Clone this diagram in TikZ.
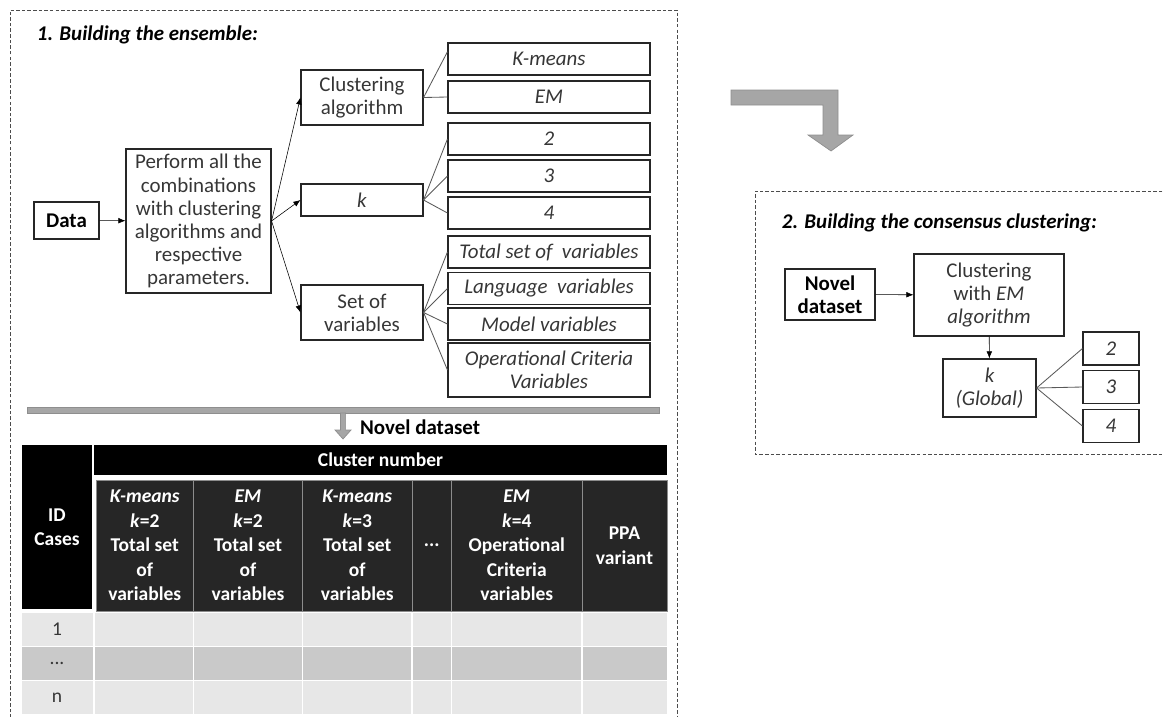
\documentclass[tikz,border=0pt]{standalone}
\usepackage{fontspec}
\setmainfont{Carlito}
\usetikzlibrary{arrows.meta}

\definecolor{txtgray}{HTML}{363636}
\definecolor{bargray}{HTML}{A6A6A6}
\definecolor{baredge}{HTML}{8E8E8E}
\definecolor{headdark}{HTML}{262626}
\definecolor{rowlight}{HTML}{E7E7E7}
\definecolor{rowdark}{HTML}{C9C9C9}
\definecolor{twiggray}{HTML}{595959}

\tikzset{
    >={Latex[length=5pt,width=4pt]},
    box/.style={draw=black!85, line width=0.8pt, align=center, inner sep=1pt, text=txtgray,
        font=\fontsize{14.9}{16.4}\selectfont},
    optbox/.style={box, minimum width=5.05cm, minimum height=0.8cm,
        font=\fontsize{14.9}{16.4}\selectfont\itshape},
    twig/.style={draw=twiggray, line width=0.6pt},
    dashbox/.style={draw=black!70, line width=0.6pt, dash pattern=on 2.5pt off 1.5pt},
    bigarrow/.style={fill=bargray, draw=baredge, line width=0.5pt},
    headcell/.style={fill=black, text=white, align=center, inner sep=0pt,
        font=\fontsize{13.9}{17.4}\selectfont\bfseries},
    subcell/.style={headcell, fill=headdark, draw=black!45, line width=0.6pt, minimum height=3.275cm},
    rowlabel/.style={text=txtgray, font=\fontsize{13.9}{17.4}\selectfont}
}

\begin{document}
\begin{tikzpicture}

        \useasboundingbox (0,0) rectangle (29.075,-17.9);

        \draw [dashbox](0.25,-17.95) |- (16.925,-0.25) -- (16.925,-17.95);
        \node [anchor=west, font=\fontsize{14.9}{16.4}\selectfont\bfseries\itshape] (title1) at (0.8,-0.875) {1. Building the ensemble:};

        \node [box, minimum width=1.625cm, minimum height=0.925cm, text=black, font=\fontsize{14.9}{16.4}\selectfont\bfseries] (data) at (1.6625,-5.5125) {Data};
        \node [box, minimum width=3.625cm, minimum height=3.6cm] (perform) at (4.9625,-5.525) {Perform all the\\combinations\\with clustering\\algorithms and\\respective\\parameters.};

        \node [box, minimum width=3.05cm, minimum height=1.375cm] (clalg) at (9.05,-2.4375) {Clustering\\algorithm};
        \node [box, minimum width=3.05cm, minimum height=0.8cm, font=\fontsize{14.9}{16.4}\selectfont\itshape] (kbox) at (9.05,-5.0) {k};
        \node [box, minimum width=3.05cm, minimum height=1.375cm] (setvar) at (9.05,-7.8125) {Set of\\variables};

        \node [optbox] (kmeans) at (13.725,-1.475) {K-means};
        \node [optbox] (em) at (13.725,-2.425) {EM};
        \node [optbox] (ktwo) at (13.725,-3.475) {2};
        \node [optbox] (kthree) at (13.725,-4.4) {3};
        \node [optbox] (kfour) at (13.725,-5.325) {4};
        \node [optbox] (vtotal) at (13.725,-6.3) {Total set of~ variables};
        \node [optbox] (vlang) at (13.725,-7.2125) {Language~ variables};
        \node [optbox] (vmodel) at (13.725,-8.1) {Model variables};
        \node [optbox, minimum height=1.35cm] (vop) at (13.725,-9.25) {Operational Criteria\\Variables};

        \draw [->](data) -- (perform);
        \draw [->](perform.east) -- (clalg.west);
        \draw [->](perform.east) -- (kbox.west);
        \draw [->](perform.east) -- (setvar.west);

        \draw [twig](clalg.east) -- ([yshift=0.18cm]kmeans.west);
        \draw [twig](clalg.east) -- (em.west);
        \draw [twig](kbox.east) -- (ktwo.west);
        \draw [twig](kbox.east) -- (kthree.west);
        \draw [twig](kbox.east) -- (kfour.west);
        \draw [twig](setvar.east) -- (vtotal.west);
        \draw [twig](setvar.east) -- (vlang.west);
        \draw [twig](setvar.east) -- (vmodel.west);
        \draw [twig](setvar.east) -- (vop.west);

        \draw [bigarrow](0.675,-10.175) rectangle (16.475,-10.325);
        \draw [bigarrow](8.51,-10.325) -- (8.64,-10.325) -- (8.64,-10.75) -- (8.775,-10.75) -- (8.575,-10.975) -- (8.375,-10.75) -- (8.51,-10.75) -- cycle;
        \node [anchor=west, text=black, font=\fontsize{14.9}{16.4}\selectfont\bfseries] (novlabel) at (8.88,-10.675) {Novel dataset};

        \node [headcell, minimum width=1.75cm, minimum height=4.1cm] (idcell) at (1.425,-13.175) {ID\\Cases};
        \node [headcell, minimum width=14.325cm, minimum height=0.75cm] (clnum) at (9.5125,-11.5) {Cluster number};

        \node [subcell, minimum width=2.4375cm] (colone) at (3.61875,-13.6375) {\textit{K-means}\\\textit{k}=2\\Total set\\of\\variables};
        \node [subcell, minimum width=2.725cm] (coltwo) at (6.2,-13.6375) {\textit{EM}\\\textit{k}=2\\Total set\\of\\variables};
        \node [subcell, minimum width=2.7375cm] (colthree) at (8.93125,-13.6375) {\textit{K-means}\\\textit{k}=3\\Total set\\of\\variables};
        \node [subcell, minimum width=0.9875cm] (coldots) at (10.79375,-13.6375) {...};
        \node [subcell, minimum width=3.2625cm] (colfour) at (12.91875,-13.6375) {\textit{EM}\\\textit{k}=4\\Operational\\Criteria\\variables};
        \node [subcell, minimum width=2.125cm] (colppa) at (15.6125,-13.6375) {PPA\\variant};

        \fill [rowlight](0.55,-15.325) rectangle (16.675,-16.15);
        \fill [rowdark](0.55,-16.175) rectangle (16.675,-17.0);
        \fill [rowlight](0.55,-17.025) rectangle (16.675,-17.85);
        \foreach \x in {2.35,4.8375,7.5625,10.3,11.2875,14.55}
            \draw [white, line width=1.2pt](\x,-15.3) -- (\x,-17.85);

        \node [rowlabel] (rowone) at (1.425,-15.7375) {1};
        \node [rowlabel] (rowdots) at (1.425,-16.5875) {...};
        \node [rowlabel] (rown) at (1.425,-17.4375) {n};

        \draw [bigarrow](18.275,-2.25) -- (20.95,-2.25) -- (20.95,-3.375) -- (21.325,-3.375) -- (20.775,-3.775) -- (20.2,-3.375) -- (20.575,-3.375) -- (20.575,-2.625) -- (18.275,-2.625) -- cycle;

        \draw [dashbox](29.2,-4.775) -| (18.875,-11.35) -- (29.2,-11.35);
        \node [anchor=west, font=\fontsize{14.9}{16.4}\selectfont\bfseries\itshape] (title2) at (19.425,-5.575) {2. Building the consensus clustering:};

        \node [box, minimum width=2.25cm, minimum height=1.275cm, text=black, font=\fontsize{14.9}{16.4}\selectfont\bfseries] (novel) at (20.75,-7.3625) {Novel\\dataset};
        \node [box, minimum width=3.75cm, minimum height=2.05cm] (clem) at (24.725,-7.375) {Clustering\\with \textit{EM}\\\textit{algorithm}};
        \node [box, minimum width=2.325cm, minimum height=1.45cm, font=\fontsize{14.9}{16.4}\selectfont\itshape] (kglob) at (24.7375,-9.7) {k\\(Global)};
        \node [box, minimum width=1.4cm, minimum height=0.825cm, font=\fontsize{14.9}{16.4}\selectfont\itshape] (gtwo) at (27.775,-8.7125) {2};
        \node [box, minimum width=1.4cm, minimum height=0.825cm, font=\fontsize{14.9}{16.4}\selectfont\itshape] (gthree) at (27.775,-9.675) {3};
        \node [box, minimum width=1.4cm, minimum height=0.825cm, font=\fontsize{14.9}{16.4}\selectfont\itshape] (gfour) at (27.775,-10.65) {4};

        \draw [->](novel) -- (clem);
        \draw [->](clem) -- (kglob);
        \draw [twig](kglob.east) -- (gtwo.west);
        \draw [twig](kglob.east) -- (gthree.west);
        \draw [twig](kglob.east) -- (gfour.west);
    \end{tikzpicture}
\end{document}
